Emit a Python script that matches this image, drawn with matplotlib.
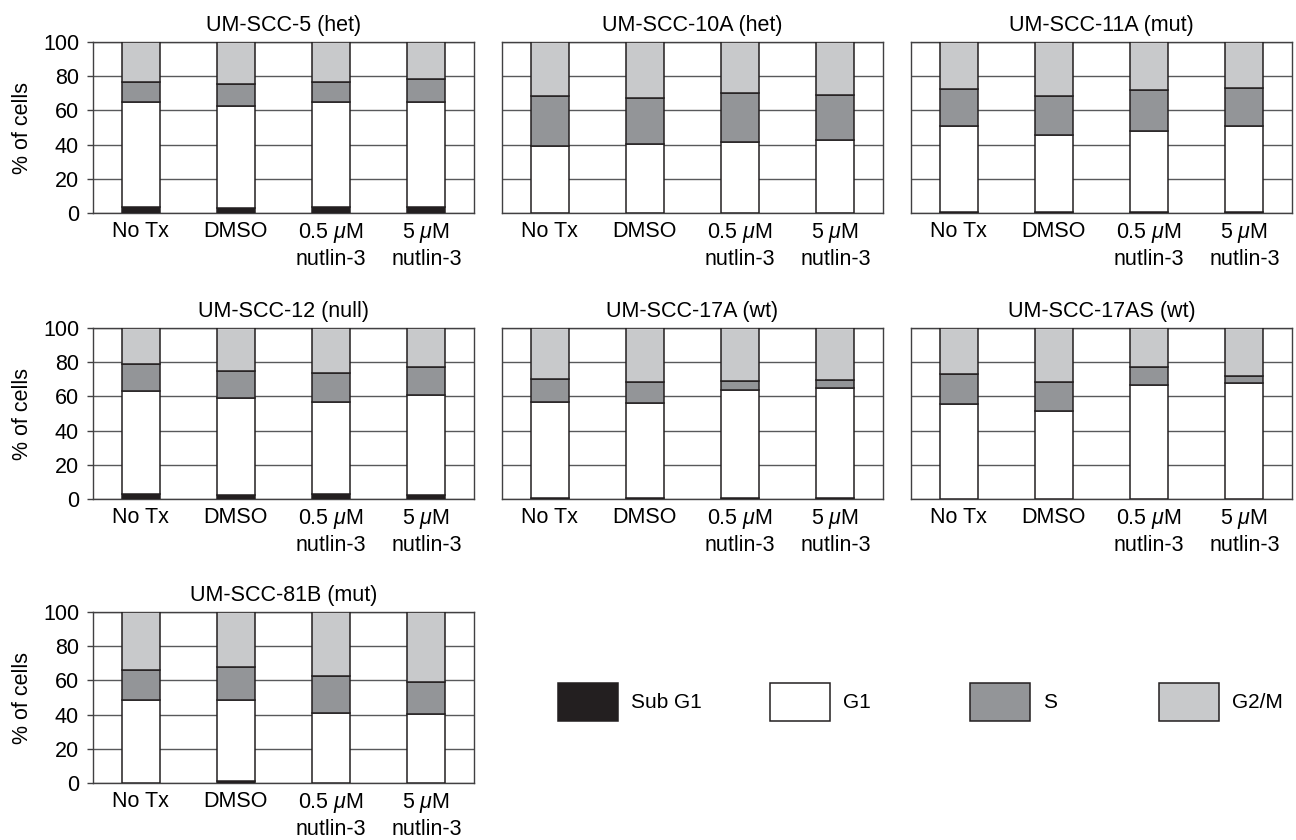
import matplotlib
matplotlib.use('Agg')
import matplotlib.pyplot as plt
import numpy as np
from matplotlib.patches import Patch

plt.rcParams['font.family'] = ['Liberation Sans', 'DejaVu Sans']
plt.rcParams['mathtext.fontset'] = 'custom'
plt.rcParams['mathtext.it'] = 'Liberation Sans:italic'
plt.rcParams['mathtext.rm'] = 'Liberation Sans'

# cell lines (panel titles)
cell_lines = ['UM-SCC-5 (het)', 'UM-SCC-10A (het)', 'UM-SCC-11A (mut)',
              'UM-SCC-12 (null)', 'UM-SCC-17A (wt)', 'UM-SCC-17AS (wt)',
              'UM-SCC-81B (mut)']
treatments = ['No Tx', 'DMSO', '0.5 $\\mu$M\nnutlin-3', '5 $\\mu$M\nnutlin-3']

# % of cells in each phase, one row per cell line, one column per treatment
sub_g1 = [[3.3, 2.7, 3.3, 3.3],
          [0.0, 0.0, 0.0, 0.0],
          [0.7, 0.7, 0.7, 0.7],
          [2.9, 2.3, 2.9, 2.3],
          [0.8, 0.8, 0.8, 0.8],
          [0.0, 0.0, 0.0, 0.0],
          [0.0, 1.0, 0.0, 0.0]]
g1 = [[61.7, 60.1, 61.7, 61.7],
      [38.9, 40.2, 41.8, 42.6],
      [49.9, 45.2, 47.0, 50.3],
      [60.1, 56.6, 53.8, 58.3],
      [55.9, 55.3, 62.7, 64.1],
      [55.8, 51.5, 66.7, 67.9],
      [48.8, 47.8, 41.2, 40.4]]
s_phase = [[11.6, 12.6, 11.6, 13.6],
           [29.5, 26.8, 28.4, 26.6],
           [22.1, 22.7, 24.2, 21.9],
           [16.0, 16.1, 17.2, 16.6],
           [13.7, 12.1, 5.7, 4.5],
           [17.2, 16.8, 10.4, 4.1],
           [17.1, 18.8, 21.3, 18.8]]
g2m = [[23.4, 24.6, 23.4, 21.4],
       [31.6, 33.0, 29.8, 30.8],
       [27.3, 31.4, 28.1, 27.1],
       [21.0, 25.0, 26.1, 22.8],
       [29.6, 31.8, 30.8, 30.6],
       [27.0, 31.7, 22.9, 28.0],
       [34.1, 32.4, 37.5, 40.8]]

phases = ['Sub G1', 'G1', 'S', 'G2/M']
colors = ['#231f20', '#ffffff', '#939598', '#c8c9cb']

W, H = 1296, 840
fig = plt.figure(figsize=(W / 100, H / 100), dpi=100)

col_left = [93, 502, 911]
row_top = [42, 328, 612]
ax_w, ax_h = 381, 171
fs = 15.5

x = np.arange(len(treatments))
for i, name in enumerate(cell_lines):
    r, c = divmod(i, 3)
    ax = fig.add_axes([col_left[c] / W, (H - row_top[r] - ax_h) / H, ax_w / W, ax_h / H])
    bottom = np.zeros(len(treatments))
    for vals, col in zip([sub_g1[i], g1[i], s_phase[i], g2m[i]], colors):
        ax.bar(x, vals, 0.4, bottom=bottom, color=col, edgecolor='#231f20',
               linewidth=1.1, zorder=3)
        bottom = bottom + np.array(vals)
    ax.set_xlim(-0.5, 3.5)
    ax.set_ylim(0, 100)
    ax.set_yticks([0, 20, 40, 60, 80, 100])
    ax.set_axisbelow(True)
    ax.yaxis.grid(True, color='#58595b', linewidth=1.0)
    for sp in ax.spines.values():
        sp.set_color('#414042')
        sp.set_linewidth(1.0)
    ax.set_xticks(x)
    ax.set_xticklabels(treatments, fontsize=fs, linespacing=1.25)
    ax.tick_params(axis='x', length=0, pad=6)
    ax.set_title(name, fontsize=fs, pad=8)
    if c == 0:
        ax.tick_params(axis='y', length=4, width=1, color='#414042', labelsize=fs, pad=6)
        ax.set_ylabel('% of cells', fontsize=fs, labelpad=7)
    else:
        ax.tick_params(axis='y', length=0, labelleft=False)

# legend: one entry per phase, laid out in a row
leg_x = [558, 770, 970, 1159]
for name, col, lx in zip(phases, colors, leg_x):
    h = Patch(facecolor=col, edgecolor='#231f20', linewidth=1.1)
    fig.legend([h], [name], loc='center left', bbox_to_anchor=(lx / W, (H - 702) / H),
               frameon=False, fontsize=15, handlelength=60 / 20.8, handleheight=51 / 20.8,
               handletextpad=0.6, borderpad=0, borderaxespad=0)

fig.savefig('out.png', dpi=100)
